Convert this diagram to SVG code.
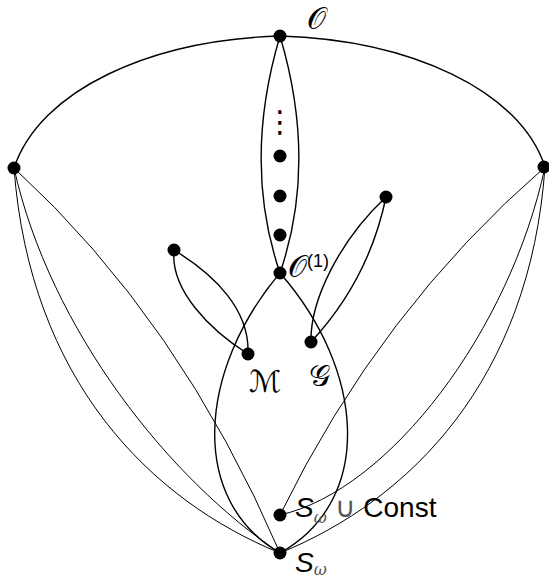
<svg xmlns="http://www.w3.org/2000/svg" width="549" height="579" viewBox="0 0 549 579">
<style>
.e{fill:none;stroke:#000;stroke-width:1.4}
.t{fill:none;stroke:#000;stroke-width:1}
.n{fill:#000}
.lab{font-family:"DejaVu Sans","DejaVu Serif",serif;font-size:30px;font-weight:normal;fill:#000}
.s{font-family:"Liberation Sans",Arial,sans-serif;font-size:28px;fill:#000}
</style>
<rect width="549" height="579" fill="#fff"/>
<g id="connectors">
<path class="e" d="M14,168 C40,90 150,40 280,36"/>
<path class="e" d="M280,36 C410,40 520,90 545,167"/>
<path class="e" d="M280,36 C255,120 255,200 280,273"/>
<path class="e" d="M280,36 C305,120 305,200 280,273"/>
<path class="e" d="M280,273 C198,370 188,500 280,553"/>
<path class="e" d="M280,273 C365,370 375,500 280,553"/>
<path class="e" d="M174,250 C170,290 210,330 248,354"/>
<path class="e" d="M174,250 C215,275 250,310 248,354"/>
<path class="e" d="M386,197 C340,240 310,300 311,342"/>
<path class="e" d="M386,197 C375,250 350,300 311,342"/>
<path class="t" d="M14,168 C30,380 150,500 280,553"/>
<path class="t" d="M14,168 C50,330 170,480 280,553"/>
<path class="t" d="M14,168 Q180,320 280,553"/>
<path class="t" d="M545,167 C530,380 410,500 280,553"/>
<path class="t" d="M545,167 C510,330 390,490 280,515"/>
<path class="t" d="M545,167 Q380,310 280,515"/>
</g>
<g id="O"><circle class="n" cx="280" cy="36" r="6.5"/><text class="lab" x="307" y="29">𝒪</text></g>
<g id="L"><circle class="n" cx="14" cy="168" r="6.5"/></g>
<g id="R"><circle class="n" cx="544" cy="167" r="6.5"/></g>
<g id="vdots"><text class="lab" x="280" y="132" text-anchor="middle" font-size="40">⋮</text></g>
<g id="d1"><circle class="n" cx="280" cy="156" r="6.5"/></g>
<g id="d2"><circle class="n" cx="280" cy="196" r="6.5"/></g>
<g id="d3"><circle class="n" cx="280" cy="235" r="6.5"/></g>
<g id="O1"><circle class="n" cx="280" cy="273" r="6.5"/><text class="lab" x="288" y="277" font-size="26">𝒪<tspan font-family="Liberation Sans,Arial,sans-serif" font-size="18" dy="-10">(1)</tspan></text></g>
<g id="A"><circle class="n" cx="174" cy="250" r="6.5"/></g>
<g id="M"><circle class="n" cx="248" cy="354" r="6.5"/><text class="lab" x="249" y="392">ℳ</text></g>
<g id="B"><circle class="n" cx="386" cy="197" r="6.5"/></g>
<g id="G"><circle class="n" cx="311" cy="342" r="6.5"/><text class="lab" x="309" y="386">𝒢</text></g>
<g id="SwC"><circle class="n" cx="280" cy="515" r="6.5"/><text class="s" x="295" y="517"><tspan font-style="italic">S</tspan><tspan font-family="DejaVu Serif,serif" font-style="italic" font-size="16" dy="6" fill="#555">ω</tspan><tspan dy="-6" fill="#555"> ∪ </tspan>Const</text></g>
<g id="Sw"><circle class="n" cx="280" cy="553" r="6.5"/><text class="s" x="295" y="572"><tspan font-style="italic">S</tspan><tspan font-family="DejaVu Serif,serif" font-style="italic" font-size="16" dy="3" fill="#555">ω</tspan></text></g>
</svg>
